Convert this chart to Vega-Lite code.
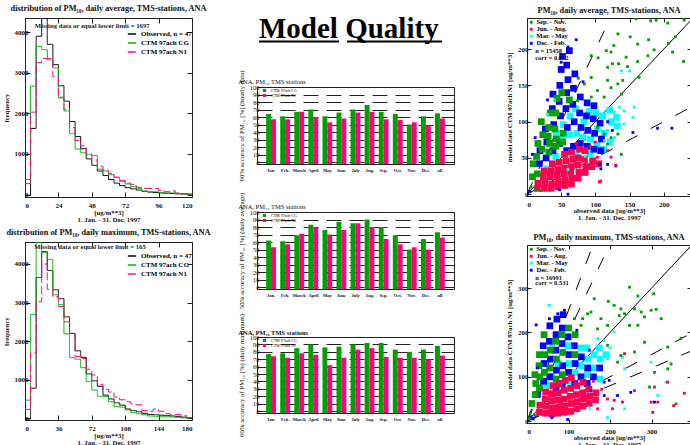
{"$schema":"https://vega.github.io/schema/vega-lite/v6.json","padding":{"left":2,"top":3,"right":0,"bottom":0},"background":"white",
"resolve":{"scale":{"color":"independent","strokeDash":"independent"},"legend":{"color":"independent","strokeDash":"independent"}},
"config":{"font":"Liberation Serif","view":{"stroke":"#222","strokeWidth":1},"axis":{"labelFontWeight":"bold","titleFontWeight":"bold","labelFontSize":7,"titleFontSize":6.8,"labelColor":"#111","titleColor":"#111","grid":false,"domain":false,"tickColor":"#222","labelPadding":6,"labelOverlap":false},"title":{"fontSize":8.3,"fontWeight":"bold","color":"#111","offset":3},"legend":{"labelFontWeight":"bold"}},
"datasets":{
"h1":[{"b":0,"o":-20,"c":370,"n":270},{"b":4,"o":1630,"c":2670,"n":2030},{"b":8,"o":3900,"c":3650,"n":3250},{"b":12,"o":4350,"c":3570,"n":3350},{"b":16,"o":3700,"c":3320,"n":3350},{"b":20,"o":3200,"c":3120,"n":2900},{"b":24,"o":2680,"c":2380,"n":2400},{"b":28,"o":2300,"c":2060,"n":2100},{"b":32,"o":1800,"c":1500,"n":1650},{"b":36,"o":1430,"c":1120,"n":1330},{"b":40,"o":1130,"c":1030,"n":1200},{"b":44,"o":880,"c":980,"n":1000},{"b":48,"o":720,"c":960,"n":850},{"b":52,"o":580,"c":625,"n":700},{"b":56,"o":470,"c":580,"n":600},{"b":60,"o":370,"c":490,"n":520},{"b":64,"o":280,"c":420,"n":430},{"b":68,"o":220,"c":320,"n":350},{"b":72,"o":170,"c":260,"n":280},{"b":76,"o":140,"c":200,"n":250},{"b":80,"o":110,"c":150,"n":180},{"b":84,"o":80,"c":90,"n":150},{"b":88,"o":60,"c":70,"n":150},{"b":92,"o":50,"c":70,"n":150},{"b":96,"o":40,"c":50,"n":100},{"b":100,"o":30,"c":40,"n":70},{"b":104,"o":25,"c":40,"n":90},{"b":108,"o":20,"c":20,"n":40},{"b":112,"o":15,"c":10,"n":20},{"b":116,"o":10,"c":10,"n":20},{"b":120,"o":10,"c":10,"n":20}],
"h2":[{"b":0,"o":-20,"c":470,"n":230},{"b":6,"o":780,"c":2690,"n":1700},{"b":12,"o":3650,"c":4570,"n":3020},{"b":18,"o":4320,"c":4300,"n":4000},{"b":24,"o":3830,"c":4120,"n":3340},{"b":30,"o":3330,"c":3200,"n":3150},{"b":36,"o":3100,"c":2950,"n":2900},{"b":42,"o":2630,"c":2190,"n":2500},{"b":48,"o":2200,"c":1570,"n":2200},{"b":54,"o":1750,"c":1530,"n":1600},{"b":60,"o":1580,"c":1310,"n":1550},{"b":66,"o":1150,"c":950,"n":1270},{"b":72,"o":970,"c":730,"n":1120},{"b":78,"o":830,"c":570,"n":880},{"b":84,"o":600,"c":560,"n":750},{"b":90,"o":500,"c":430,"n":680},{"b":96,"o":400,"c":300,"n":550},{"b":102,"o":340,"c":290,"n":480},{"b":108,"o":240,"c":220,"n":430},{"b":114,"o":200,"c":150,"n":370},{"b":120,"o":170,"c":120,"n":350},{"b":126,"o":130,"c":90,"n":200},{"b":132,"o":100,"c":60,"n":180},{"b":138,"o":90,"c":50,"n":240},{"b":144,"o":80,"c":40,"n":180},{"b":150,"o":70,"c":40,"n":120},{"b":156,"o":60,"c":30,"n":90},{"b":162,"o":50,"c":20,"n":100},{"b":168,"o":30,"c":10,"n":70},{"b":174,"o":20,"c":5,"n":20},{"b":180,"o":20,"c":5,"n":20}],
"b1":[{"m":"Jan.","a":64,"b":57},{"m":"Feb.","a":61,"b":57},{"m":"March","a":67,"b":67},{"m":"April","a":70,"b":60},{"m":"May","a":61,"b":53},{"m":"June","a":66,"b":58},{"m":"July","a":70,"b":66},{"m":"Aug.","a":76,"b":67},{"m":"Sep.","a":67,"b":57},{"m":"Oct.","a":64,"b":56},{"m":"Nov.","a":50,"b":53},{"m":"Dec.","a":61,"b":49},{"m":"all","a":65,"b":58}],
"b2":[{"m":"Jan.","a":62,"b":53},{"m":"Feb.","a":61,"b":57},{"m":"March","a":69,"b":71},{"m":"April","a":83,"b":80},{"m":"May","a":76,"b":70},{"m":"June","a":87,"b":76},{"m":"July","a":85,"b":85},{"m":"Aug.","a":90,"b":80},{"m":"Sep.","a":80,"b":64},{"m":"Oct.","a":69,"b":57},{"m":"Nov.","a":50,"b":53},{"m":"Dec.","a":64,"b":50},{"m":"all","a":73,"b":66}],
"b3":[{"m":"Jan.","a":77,"b":74},{"m":"Feb.","a":78,"b":72},{"m":"March","a":85,"b":78},{"m":"April","a":90,"b":76},{"m":"May","a":86,"b":62},{"m":"June","a":87,"b":72},{"m":"July","a":90,"b":83},{"m":"Aug.","a":92,"b":85},{"m":"Sep.","a":92,"b":73},{"m":"Oct.","a":83,"b":72},{"m":"Nov.","a":80,"b":72},{"m":"Dec.","a":83,"b":70},{"m":"all","a":88,"b":75}],
"c1":[{"x":30,"y":35,"s":"M"},{"x":42,"y":52,"s":"M"},{"x":43,"y":84,"s":"M"},{"x":52,"y":76,"s":"M"},{"x":53,"y":96,"s":"M"},{"x":62,"y":82,"s":"M"},{"x":63,"y":108,"s":"M"},{"x":72,"y":56,"s":"M"},{"x":73,"y":84,"s":"M"},{"x":71,"y":118,"s":"M"},{"x":82,"y":78,"s":"M"},{"x":83,"y":100,"s":"M"},{"x":92,"y":56,"s":"M"},{"x":93,"y":76,"s":"M"},{"x":91,"y":114,"s":"M"},{"x":102,"y":68,"s":"M"},{"x":103,"y":90,"s":"M"},{"x":101,"y":112,"s":"M"},{"x":112,"y":62,"s":"M"},{"x":113,"y":84,"s":"M"},{"x":111,"y":108,"s":"M"},{"x":122,"y":72,"s":"M"},{"x":123,"y":100,"s":"M"},{"x":121,"y":116,"s":"M"},{"x":132,"y":94,"s":"M"},{"x":131,"y":106,"s":"M"},
{"x":18,"y":42,"s":"D"},{"x":19,"y":60,"s":"D"},{"x":28,"y":50,"s":"D"},{"x":29,"y":72,"s":"D"},{"x":27,"y":90,"s":"D"},{"x":38,"y":60,"s":"D"},{"x":39,"y":96,"s":"D"},{"x":37,"y":118,"s":"D"},{"x":38,"y":138,"s":"D"},{"x":48,"y":70,"s":"D"},{"x":49,"y":108,"s":"D"},{"x":47,"y":128,"s":"D"},{"x":48,"y":150,"s":"D"},{"x":50,"y":172,"s":"D"},{"x":52,"y":190,"s":"D"},{"x":58,"y":60,"s":"D"},{"x":59,"y":92,"s":"D"},{"x":57,"y":118,"s":"D"},{"x":58,"y":140,"s":"D"},{"x":60,"y":158,"s":"D"},{"x":58,"y":178,"s":"D"},{"x":62,"y":198,"s":"D"},{"x":68,"y":66,"s":"D"},{"x":69,"y":100,"s":"D"},{"x":67,"y":124,"s":"D"},{"x":68,"y":146,"s":"D"},{"x":70,"y":166,"s":"D"},{"x":78,"y":70,"s":"D"},{"x":79,"y":92,"s":"D"},{"x":77,"y":112,"s":"D"},{"x":78,"y":134,"s":"D"},{"x":88,"y":66,"s":"D"},{"x":89,"y":88,"s":"D"},{"x":87,"y":108,"s":"D"},{"x":88,"y":126,"s":"D"},{"x":98,"y":62,"s":"D"},{"x":99,"y":84,"s":"D"},{"x":97,"y":104,"s":"D"},{"x":98,"y":122,"s":"D"},{"x":108,"y":60,"s":"D"},{"x":109,"y":76,"s":"D"},{"x":107,"y":98,"s":"D"},
{"x":8,"y":24,"s":"S"},{"x":9,"y":42,"s":"S"},{"x":15,"y":28,"s":"S"},{"x":14,"y":52,"s":"S"},{"x":16,"y":70,"s":"S"},{"x":22,"y":62,"s":"S"},{"x":23,"y":82,"s":"S"},{"x":21,"y":100,"s":"S"},{"x":32,"y":58,"s":"S"},{"x":33,"y":70,"s":"S"},{"x":31,"y":80,"s":"S"},{"x":32,"y":92,"s":"S"},{"x":34,"y":112,"s":"S"},{"x":42,"y":66,"s":"S"},{"x":43,"y":76,"s":"S"},{"x":41,"y":90,"s":"S"},{"x":42,"y":112,"s":"S"},{"x":44,"y":132,"s":"S"},{"x":52,"y":72,"s":"S"},{"x":53,"y":84,"s":"S"},{"x":51,"y":140,"s":"S"},{"x":62,"y":130,"s":"S"},
{"x":15,"y":8,"s":"J"},{"x":16,"y":15,"s":"J"},{"x":25,"y":8,"s":"J"},{"x":26,"y":16,"s":"J"},{"x":24,"y":24,"s":"J"},{"x":25,"y":32,"s":"J"},{"x":35,"y":8,"s":"J"},{"x":36,"y":14,"s":"J"},{"x":34,"y":24,"s":"J"},{"x":35,"y":32,"s":"J"},{"x":37,"y":42,"s":"J"},{"x":45,"y":10,"s":"J"},{"x":46,"y":18,"s":"J"},{"x":44,"y":26,"s":"J"},{"x":45,"y":34,"s":"J"},{"x":47,"y":44,"s":"J"},{"x":55,"y":12,"s":"J"},{"x":56,"y":20,"s":"J"},{"x":54,"y":28,"s":"J"},{"x":55,"y":36,"s":"J"},{"x":57,"y":46,"s":"J"},{"x":55,"y":55,"s":"J"},{"x":65,"y":14,"s":"J"},{"x":66,"y":22,"s":"J"},{"x":64,"y":30,"s":"J"},{"x":65,"y":38,"s":"J"},{"x":67,"y":48,"s":"J"},{"x":65,"y":58,"s":"J"},{"x":75,"y":22,"s":"J"},{"x":76,"y":30,"s":"J"},{"x":74,"y":40,"s":"J"},{"x":75,"y":50,"s":"J"},{"x":77,"y":62,"s":"J"},{"x":85,"y":30,"s":"J"},{"x":86,"y":38,"s":"J"},{"x":84,"y":48,"s":"J"},{"x":85,"y":60,"s":"J"},{"x":95,"y":38,"s":"J"},{"x":96,"y":46,"s":"J"},{"x":105,"y":42,"s":"J"}],
"d1":[{"x":138,"y":170,"s":"M"},{"x":150,"y":170,"s":"M"},{"x":118,"y":115,"s":"M"},{"x":128,"y":113,"s":"M"},{"x":142,"y":115,"s":"M"},{"x":155,"y":106,"s":"M"},{"x":157,"y":120,"s":"M"},{"x":135,"y":120,"s":"M"},{"x":142,"y":97,"s":"M"},{"x":118,"y":88,"s":"M"},{"x":128,"y":78,"s":"M"},{"x":113,"y":74,"s":"M"},{"x":60,"y":34,"s":"M"},{"x":85,"y":52,"s":"M"},{"x":40,"y":130,"s":"M"},{"x":30,"y":110,"s":"M"},
{"x":72,"y":213,"s":"D"},{"x":52,"y":170,"s":"D"},{"x":60,"y":203,"s":"D"},{"x":50,"y":182,"s":"D"},{"x":155,"y":85,"s":"D"},{"x":191,"y":91,"s":"D"},{"x":212,"y":91,"s":"D"},{"x":118,"y":41,"s":"D"},{"x":130,"y":39,"s":"D"},{"x":108,"y":35,"s":"D"},{"x":106,"y":41,"s":"D"},{"x":60,"y":0,"s":"D"},{"x":8,"y":55,"s":"D"},{"x":12,"y":78,"s":"D"},{"x":30,"y":130,"s":"D"},{"x":82,"y":155,"s":"D"},{"x":118,"y":100,"s":"D"},{"x":125,"y":88,"s":"D"},{"x":48,"y":6,"s":"D"},{"x":4,"y":4,"s":"D"},
{"x":160,"y":242,"s":"S"},{"x":181,"y":239,"s":"S"},{"x":189,"y":240,"s":"S"},{"x":206,"y":236,"s":"S"},{"x":230,"y":240,"s":"S"},{"x":133,"y":221,"s":"S"},{"x":151,"y":217,"s":"S"},{"x":162,"y":207,"s":"S"},{"x":178,"y":213,"s":"S"},{"x":127,"y":205,"s":"S"},{"x":116,"y":198,"s":"S"},{"x":123,"y":196,"s":"S"},{"x":94,"y":191,"s":"S"},{"x":104,"y":188,"s":"S"},{"x":145,"y":189,"s":"S"},{"x":162,"y":183,"s":"S"},{"x":177,"y":191,"s":"S"},{"x":186,"y":199,"s":"S"},{"x":213,"y":196,"s":"S"},{"x":229,"y":183,"s":"S"},{"x":207,"y":208,"s":"S"},{"x":217,"y":217,"s":"S"},{"x":125,"y":180,"s":"S"},{"x":134,"y":180,"s":"S"},{"x":118,"y":175,"s":"S"},{"x":147,"y":176,"s":"S"},{"x":164,"y":161,"s":"S"},{"x":140,"y":157,"s":"S"},{"x":118,"y":157,"s":"S"},{"x":94,"y":161,"s":"S"},{"x":84,"y":152,"s":"S"},{"x":103,"y":143,"s":"S"},{"x":123,"y":147,"s":"S"},{"x":133,"y":152,"s":"S"},{"x":113,"y":134,"s":"S"},{"x":94,"y":134,"s":"S"},{"x":138,"y":138,"s":"S"},{"x":123,"y":78,"s":"S"},{"x":133,"y":83,"s":"S"},{"x":138,"y":55,"s":"S"},{"x":113,"y":83,"s":"S"},{"x":118,"y":69,"s":"S"},{"x":11,"y":25,"s":"S"},{"x":103,"y":92,"s":"S"},{"x":74,"y":129,"s":"S"},{"x":6,"y":10,"s":"S"},{"x":12,"y":6,"s":"S"},{"x":20,"y":5,"s":"S"},{"x":75,"y":160,"s":"S"},
{"x":106,"y":17,"s":"J"},{"x":108,"y":18,"s":"J"},{"x":130,"y":40,"s":"J"},{"x":118,"y":60,"s":"J"},{"x":123,"y":51,"s":"J"},{"x":103,"y":51,"s":"J"},{"x":94,"y":41,"s":"J"},{"x":84,"y":37,"s":"J"},{"x":92,"y":66,"s":"J"},{"x":72,"y":70,"s":"J"},{"x":100,"y":72,"s":"J"}],
"c2":[{"x":45,"y":82,"s":"M"},{"x":60,"y":100,"s":"M"},{"x":61,"y":165,"s":"M"},{"x":75,"y":130,"s":"M"},{"x":100,"y":90,"s":"M"},{"x":101,"y":130,"s":"M"},{"x":99,"y":170,"s":"M"},{"x":115,"y":110,"s":"M"},{"x":116,"y":150,"s":"M"},{"x":130,"y":125,"s":"M"},{"x":131,"y":165,"s":"M"},{"x":145,"y":105,"s":"M"},{"x":146,"y":140,"s":"M"},{"x":144,"y":165,"s":"M"},{"x":160,"y":120,"s":"M"},{"x":161,"y":150,"s":"M"},{"x":175,"y":95,"s":"M"},{"x":176,"y":140,"s":"M"},{"x":174,"y":165,"s":"M"},{"x":190,"y":150,"s":"M"},
{"x":25,"y":60,"s":"D"},{"x":40,"y":90,"s":"D"},{"x":41,"y":130,"s":"D"},{"x":39,"y":170,"s":"D"},{"x":55,"y":100,"s":"D"},{"x":56,"y":140,"s":"D"},{"x":54,"y":180,"s":"D"},{"x":55,"y":215,"s":"D"},{"x":70,"y":70,"s":"D"},{"x":71,"y":115,"s":"D"},{"x":69,"y":160,"s":"D"},{"x":70,"y":195,"s":"D"},{"x":72,"y":230,"s":"D"},{"x":85,"y":85,"s":"D"},{"x":86,"y":125,"s":"D"},{"x":84,"y":175,"s":"D"},{"x":85,"y":210,"s":"D"},{"x":87,"y":240,"s":"D"},{"x":100,"y":110,"s":"D"},{"x":101,"y":150,"s":"D"},{"x":99,"y":190,"s":"D"},{"x":115,"y":85,"s":"D"},{"x":116,"y":130,"s":"D"},{"x":114,"y":170,"s":"D"},{"x":130,"y":100,"s":"D"},{"x":131,"y":145,"s":"D"},{"x":145,"y":85,"s":"D"},{"x":146,"y":120,"s":"D"},{"x":160,"y":100,"s":"D"},{"x":175,"y":120,"s":"D"},
{"x":12,"y":40,"s":"S"},{"x":20,"y":60,"s":"S"},{"x":21,"y":85,"s":"S"},{"x":19,"y":105,"s":"S"},{"x":30,"y":75,"s":"S"},{"x":31,"y":100,"s":"S"},{"x":29,"y":125,"s":"S"},{"x":30,"y":150,"s":"S"},{"x":42,"y":110,"s":"S"},{"x":43,"y":150,"s":"S"},{"x":41,"y":195,"s":"S"},{"x":55,"y":120,"s":"S"},{"x":56,"y":160,"s":"S"},{"x":70,"y":95,"s":"S"},{"x":71,"y":140,"s":"S"},{"x":69,"y":180,"s":"S"},{"x":85,"y":105,"s":"S"},{"x":86,"y":155,"s":"S"},{"x":84,"y":195,"s":"S"},{"x":100,"y":210,"s":"S"},{"x":115,"y":150,"s":"S"},{"x":116,"y":195,"s":"S"},
{"x":30,"y":20,"s":"J"},{"x":31,"y":36,"s":"J"},{"x":45,"y":18,"s":"J"},{"x":46,"y":34,"s":"J"},{"x":44,"y":50,"s":"J"},{"x":45,"y":66,"s":"J"},{"x":60,"y":16,"s":"J"},{"x":61,"y":30,"s":"J"},{"x":59,"y":46,"s":"J"},{"x":60,"y":62,"s":"J"},{"x":62,"y":80,"s":"J"},{"x":75,"y":18,"s":"J"},{"x":76,"y":32,"s":"J"},{"x":74,"y":48,"s":"J"},{"x":75,"y":64,"s":"J"},{"x":77,"y":84,"s":"J"},{"x":90,"y":20,"s":"J"},{"x":91,"y":34,"s":"J"},{"x":89,"y":50,"s":"J"},{"x":90,"y":70,"s":"J"},{"x":92,"y":92,"s":"J"},{"x":105,"y":22,"s":"J"},{"x":106,"y":40,"s":"J"},{"x":104,"y":56,"s":"J"},{"x":105,"y":74,"s":"J"},{"x":107,"y":98,"s":"J"},{"x":120,"y":28,"s":"J"},{"x":121,"y":44,"s":"J"},{"x":119,"y":60,"s":"J"},{"x":120,"y":80,"s":"J"},{"x":135,"y":34,"s":"J"},{"x":136,"y":50,"s":"J"},{"x":134,"y":64,"s":"J"},{"x":135,"y":88,"s":"J"},{"x":150,"y":40,"s":"J"},{"x":151,"y":56,"s":"J"},{"x":149,"y":72,"s":"J"},{"x":165,"y":48,"s":"J"},{"x":166,"y":64,"s":"J"}],
"d2":[{"x":170,"y":186,"s":"M"},{"x":186,"y":182,"s":"M"},{"x":210,"y":201,"s":"M"},{"x":194,"y":141,"s":"M"},{"x":299,"y":133,"s":"M"},{"x":235,"y":118,"s":"M"},{"x":194,"y":8,"s":"M"},{"x":315,"y":58,"s":"M"},{"x":335,"y":88,"s":"M"},{"x":235,"y":28,"s":"M"},{"x":230,"y":144,"s":"M"},{"x":54,"y":261,"s":"M"},{"x":180,"y":70,"s":"M"},{"x":150,"y":30,"s":"M"},{"x":200,"y":165,"s":"M"},
{"x":22,"y":217,"s":"D"},{"x":74,"y":242,"s":"D"},{"x":90,"y":250,"s":"D"},{"x":54,"y":231,"s":"D"},{"x":154,"y":69,"s":"D"},{"x":186,"y":88,"s":"D"},{"x":218,"y":58,"s":"D"},{"x":250,"y":65,"s":"D"},{"x":198,"y":92,"s":"D"},{"x":307,"y":43,"s":"D"},{"x":186,"y":58,"s":"D"},{"x":98,"y":4,"s":"D"},{"x":10,"y":10,"s":"D"},{"x":15,"y":5,"s":"D"},{"x":25,"y":120,"s":"D"},{"x":120,"y":205,"s":"D"},{"x":150,"y":160,"s":"D"},{"x":60,"y":8,"s":"D"},
{"x":247,"y":302,"s":"S"},{"x":267,"y":282,"s":"S"},{"x":305,"y":287,"s":"S"},{"x":196,"y":270,"s":"S"},{"x":162,"y":276,"s":"S"},{"x":210,"y":261,"s":"S"},{"x":226,"y":253,"s":"S"},{"x":235,"y":242,"s":"S"},{"x":259,"y":253,"s":"S"},{"x":275,"y":246,"s":"S"},{"x":299,"y":250,"s":"S"},{"x":311,"y":252,"s":"S"},{"x":283,"y":235,"s":"S"},{"x":323,"y":231,"s":"S"},{"x":146,"y":242,"s":"S"},{"x":134,"y":231,"s":"S"},{"x":178,"y":231,"s":"S"},{"x":194,"y":216,"s":"S"},{"x":170,"y":208,"s":"S"},{"x":154,"y":246,"s":"S"},{"x":222,"y":238,"s":"S"},{"x":267,"y":216,"s":"S"},{"x":247,"y":216,"s":"S"},{"x":371,"y":187,"s":"S"},{"x":283,"y":178,"s":"S"},{"x":339,"y":167,"s":"S"},{"x":259,"y":156,"s":"S"},{"x":226,"y":148,"s":"S"},{"x":218,"y":133,"s":"S"},{"x":295,"y":77,"s":"S"},{"x":307,"y":110,"s":"S"},{"x":339,"y":118,"s":"S"},{"x":347,"y":129,"s":"S"},{"x":194,"y":171,"s":"S"},{"x":359,"y":39,"s":"S"},{"x":114,"y":231,"s":"S"},{"x":130,"y":216,"s":"S"},{"x":5,"y":6,"s":"S"},{"x":8,"y":18,"s":"S"},{"x":18,"y":14,"s":"S"},
{"x":235,"y":152,"s":"J"},{"x":259,"y":69,"s":"J"},{"x":307,"y":77,"s":"J"},{"x":303,"y":20,"s":"J"},{"x":299,"y":43,"s":"J"},{"x":315,"y":43,"s":"J"},{"x":379,"y":63,"s":"J"},{"x":339,"y":88,"s":"J"},{"x":353,"y":35,"s":"J"},{"x":194,"y":50,"s":"J"},{"x":210,"y":47,"s":"J"},{"x":230,"y":43,"s":"J"},{"x":170,"y":28,"s":"J"},{"x":206,"y":28,"s":"J"},{"x":180,"y":72,"s":"J"},{"x":160,"y":90,"s":"J"}]
},
"spacing":51,
"hconcat":[{"spacing":25,"resolve":{"scale":{"color":"independent","strokeDash":"independent"},"legend":{"color":"independent","strokeDash":"independent"}},"hconcat":[
{"spacing":45,"bounds":"flush","resolve":{"scale":{"color":"independent","strokeDash":"independent"},"legend":{"color":"independent","strokeDash":"independent"}},"vconcat":[
{"width":167,"height":179,"title":"distribution of PM₁₀, daily average, TMS-stations, ANA","resolve":{"axis":{"x":"independent","y":"independent"}},"data":{"name":"h1"},"transform":[{"fold":["o","c","n"],"as":["k","v"]}],
"layer":[
{"mark":{"type":"point","opacity":0},"encoding":{"x":{"field":"b","type":"quantitative","scale":{"domain":[0,120],"nice":false},"axis":{"orient":"top","values":[0,24,48,72,96,120],"labels":false,"title":null,"tickSize":-5}},"y":{"field":"v","type":"quantitative","scale":{"domain":[-60,4350],"nice":false,"zero":false},"axis":{"orient":"right","values":[0,1000,2000,3000,4000],"labels":false,"title":null,"tickSize":-5}}}},
{"mark":{"type":"line","interpolate":"step-after","strokeWidth":1,"clip":true},"encoding":{"x":{"field":"b","type":"quantitative","scale":{"domain":[0,120],"nice":false},"axis":{"values":[0,24,48,72,96,120],"title":["[ug/m**3]","1. Jan. - 31. Dec. 1997"],"tickSize":-5,"labelPadding":9,"titlePadding":1,"titleLineHeight":7}},"y":{"field":"v","type":"quantitative","scale":{"domain":[-60,4350],"nice":false,"zero":false},"axis":{"values":[0,1000,2000,3000,4000],"format":"d","title":"frequency","tickSize":-5,"labelPadding":2,"titlePadding":5}},"order":{"field":"k"},
"color":{"field":"k","type":"nominal","scale":{"domain":["o","c","n"],"range":["#000000","#00b400","#ff0a8c"]},"legend":{"orient":"none","legendX":102,"legendY":11,"title":null,"symbolType":"stroke","symbolSize":70,"labelFontSize":7,"rowPadding":1,"labelExpr":"{'o':'Observed, n = 47','c':'CTM 97ach CG','n':'CTM 97ach N1'}[datum.label]"}},
"strokeDash":{"field":"k","type":"nominal","scale":{"domain":["o","c","n"],"range":[[1,0],[1,0],[8,3]]},"legend":{"orient":"none","legendX":102,"legendY":11,"title":null,"symbolType":"stroke","symbolSize":70,"labelFontSize":7,"rowPadding":1,"labelExpr":"{'o':'Observed, n = 47','c':'CTM 97ach CG','n':'CTM 97ach N1'}[datum.label]"}}}},
{"data":{"values":[{"b":7,"v":4160,"t":"Missing data or equal lower limit = 1697"}]},"transform":[],"mark":{"type":"text","align":"left","fontSize":6.7,"fontWeight":"bold","color":"#222"},"encoding":{"x":{"field":"b","type":"quantitative","axis":null,"scale":{"domain":[0,120],"nice":false}},"y":{"field":"v","type":"quantitative","axis":null,"scale":{"domain":[-60,4350],"nice":false,"zero":false}},"text":{"field":"t"}}}
]},
{"width":167,"height":178,"title":"distribution of PM₁₀, daily maximum, TMS-stations, ANA","resolve":{"axis":{"x":"independent","y":"independent"}},"data":{"name":"h2"},"transform":[{"fold":["o","c","n"],"as":["k","v"]}],
"layer":[
{"mark":{"type":"point","opacity":0},"encoding":{"x":{"field":"b","type":"quantitative","scale":{"domain":[0,180],"nice":false},"axis":{"orient":"top","values":[0,36,72,108,144,180],"labels":false,"title":null,"tickSize":-5}},"y":{"field":"v","type":"quantitative","scale":{"domain":[-45,4570],"nice":false,"zero":false},"axis":{"orient":"right","values":[0,1000,2000,3000,4000],"labels":false,"title":null,"tickSize":-5}}}},
{"mark":{"type":"line","interpolate":"step-after","strokeWidth":1,"clip":true},"encoding":{"x":{"field":"b","type":"quantitative","scale":{"domain":[0,180],"nice":false},"axis":{"values":[0,36,72,108,144,180],"title":["[ug/m**3]","1. Jan. - 31. Dec. 1997"],"tickSize":-5,"labelPadding":9,"titlePadding":1,"titleLineHeight":7}},"y":{"field":"v","type":"quantitative","scale":{"domain":[-45,4570],"nice":false,"zero":false},"axis":{"values":[0,1000,2000,3000,4000],"format":"d","title":"frequency","tickSize":-5,"labelPadding":2,"titlePadding":5}},"order":{"field":"k"},
"color":{"field":"k","type":"nominal","scale":{"domain":["o","c","n"],"range":["#000000","#00b400","#ff0a8c"]},"legend":{"orient":"none","legendX":102,"legendY":9,"title":null,"symbolType":"stroke","symbolSize":70,"labelFontSize":7,"rowPadding":1,"labelExpr":"{'o':'Observed, n = 47','c':'CTM 97ach CG','n':'CTM 97ach N1'}[datum.label]"}},
"strokeDash":{"field":"k","type":"nominal","scale":{"domain":["o","c","n"],"range":[[1,0],[1,0],[8,3]]},"legend":{"orient":"none","legendX":102,"legendY":9,"title":null,"symbolType":"stroke","symbolSize":70,"labelFontSize":7,"rowPadding":1,"labelExpr":"{'o':'Observed, n = 47','c':'CTM 97ach CG','n':'CTM 97ach N1'}[datum.label]"}}}},
{"data":{"values":[{"b":10,"v":4440,"t":"Missing data or equal lower limit = 165"}]},"transform":[],"mark":{"type":"text","align":"left","fontSize":6.7,"fontWeight":"bold","color":"#222"},"encoding":{"x":{"field":"b","type":"quantitative","axis":null,"scale":{"domain":[0,180],"nice":false}},"y":{"field":"v","type":"quantitative","axis":null,"scale":{"domain":[-45,4570],"nice":false,"zero":false}},"text":{"field":"t"}}}
]}
]},
{"spacing":48,"bounds":"flush","resolve":{"scale":{"color":"independent"},"legend":{"color":"independent"}},"vconcat":[
{"width":197,"height":21,"view":{"stroke":null},"layer":[
{"data":{"values":[{"x":2,"y":1,"t":"Model Quality"}]},"mark":{"type":"text","align":"left","baseline":"alphabetic","fontSize":29,"fontWeight":"bold","color":"#000"},"encoding":{"x":{"field":"x","type":"quantitative","axis":null,"scale":{"domain":[0,197],"nice":false}},"y":{"field":"y","type":"quantitative","axis":null,"scale":{"domain":[0,21],"nice":false}},"text":{"field":"t"}}},
{"data":{"values":[{"x":2,"x2":82,"y":-2.5},{"x":90,"x2":185,"y":-2.5}]},"mark":{"type":"rule","strokeWidth":2,"color":"#000"},"encoding":{"x":{"field":"x","type":"quantitative","axis":null,"scale":{"domain":[0,197],"nice":false}},"x2":{"field":"x2"},"y":{"field":"y","type":"quantitative","axis":null,"scale":{"domain":[0,21],"nice":false}}}}
]},
{"width":197,"height":77,"title":{"text":"ANA, PM₁₀  TMS stations","anchor":"start","fontSize":6.5,"fontWeight":"normal","offset":-15},"data":{"name":"b1"},"transform":[{"fold":["a","b"],"as":["k","v"]}],"mark":{"type":"bar"},"encoding":{"x":{"field":"m","type":"nominal","sort":null,"scale":{"paddingInner":0.3,"paddingOuter":0.65},"axis":{"title":null,"labelAngle":0,"labelFontSize":4.5,"labelPadding":3,"tickSize":0}},"xOffset":{"field":"k","sort":["a","b"]},"y":{"field":"v","type":"quantitative","stack":null,"scale":{"domain":[-2.5,100],"nice":false,"zero":false},"axis":{"values":[0,10,20,30,40,50,60,70,80,90,100],"grid":true,"gridColor":"#222","gridDash":[15,8],"title":"60% accuracy of PM₁₀ [%] (hourly data)","titleFontSize":6.8,"titleFontWeight":"normal","labelFontSize":6.5,"labelFontWeight":"normal","tickSize":-3,"labelPadding":1,"titlePadding":5}},"y2":{"datum":-2.5},
"color":{"field":"k","type":"nominal","scale":{"domain":["a","b"],"range":["#00a000","#ff0080"]},"legend":{"orient":"none","legendX":5,"legendY":1,"title":null,"symbolType":"square","symbolSize":10,"labelFontSize":4,"labelFontWeight":"normal","rowPadding":-1,"labelExpr":"{'a':'CTM 97ach CG','b':'CTM 97ach N1'}[datum.label]"}}}},
{"width":197,"height":77,"title":{"text":"ANA, PM₁₀  TMS stations","anchor":"start","fontSize":6.5,"fontWeight":"normal","offset":-18},"data":{"name":"b2"},"transform":[{"fold":["a","b"],"as":["k","v"]}],"mark":{"type":"bar"},"encoding":{"x":{"field":"m","type":"nominal","sort":null,"scale":{"paddingInner":0.3,"paddingOuter":0.65},"axis":{"title":null,"labelAngle":0,"labelFontSize":4.5,"labelPadding":3,"tickSize":0}},"xOffset":{"field":"k","sort":["a","b"]},"y":{"field":"v","type":"quantitative","stack":null,"scale":{"domain":[-2.5,100],"nice":false,"zero":false},"axis":{"values":[0,10,20,30,40,50,60,70,80,90,100],"grid":true,"gridColor":"#222","gridDash":[15,8],"title":"50% accuracy of PM₁₀ [%] (daily average)","titleFontSize":6.8,"titleFontWeight":"normal","labelFontSize":6.5,"labelFontWeight":"normal","tickSize":-3,"labelPadding":1,"titlePadding":5}},"y2":{"datum":-2.5},
"color":{"field":"k","type":"nominal","scale":{"domain":["a","b"],"range":["#00a000","#ff0080"]},"legend":{"orient":"none","legendX":5,"legendY":1,"title":null,"symbolType":"square","symbolSize":10,"labelFontSize":4,"labelFontWeight":"normal","rowPadding":-1,"labelExpr":"{'a':'CTM 97ach CG','b':'CTM 97ach N1'}[datum.label]"}}}},
{"width":197,"height":76,"title":{"text":"ANA, PM₁₀  TMS stations","anchor":"start","fontSize":6.5,"fontWeight":"bold","offset":-23},"data":{"name":"b3"},"transform":[{"fold":["a","b"],"as":["k","v"]}],"mark":{"type":"bar"},"encoding":{"x":{"field":"m","type":"nominal","sort":null,"scale":{"paddingInner":0.3,"paddingOuter":0.65},"axis":{"title":null,"labelAngle":0,"labelFontSize":4.5,"labelPadding":3,"tickSize":0}},"xOffset":{"field":"k","sort":["a","b"]},"y":{"field":"v","type":"quantitative","stack":null,"scale":{"domain":[-2.5,100],"nice":false,"zero":false},"axis":{"values":[0,10,20,30,40,50,60,70,80,90,100],"grid":true,"gridColor":"#222","gridDash":[15,8],"title":"60% accuracy of PM₁₀ [%] (daily maximum)","titleFontSize":6.8,"titleFontWeight":"normal","labelFontSize":6.5,"labelFontWeight":"normal","tickSize":-3,"labelPadding":1,"titlePadding":5}},"y2":{"datum":-2.5},
"color":{"field":"k","type":"nominal","scale":{"domain":["a","b"],"range":["#00a000","#ff0080"]},"legend":{"orient":"none","legendX":5,"legendY":1,"title":null,"symbolType":"square","symbolSize":10,"labelFontSize":4,"labelFontWeight":"normal","rowPadding":-1,"labelExpr":"{'a':'CTM 97ach CG','b':'CTM 97ach N1'}[datum.label]"}}}}
]}
]},
{"spacing":49,"bounds":"flush","resolve":{"scale":{"color":"independent"},"legend":{"color":"independent"}},"vconcat":[
{"width":164,"height":178,"title":"PM₁₀, daily average, TMS-stations, ANA","resolve":{"axis":{"x":"independent","y":"independent"}},
"layer":[
{"data":{"values":[{"x":0,"y":0}]},"mark":{"type":"point","opacity":0},"encoding":{"x":{"field":"x","type":"quantitative","scale":{"domain":[0,240],"nice":false},"axis":{"orient":"top","values":[0,50,100,150,200],"labels":false,"title":null,"tickSize":-4}},"y":{"field":"y","type":"quantitative","scale":{"domain":[-2.5,243],"nice":false,"zero":false},"axis":{"orient":"right","values":[0,50,100,150,200],"labels":false,"title":null,"tickSize":-4}}}},
{"data":{"values":[{"x":0,"y":0,"x2":240,"y2":240}]},"mark":{"type":"rule","strokeWidth":1,"color":"#000","clip":true},"encoding":{"x":{"field":"x","type":"quantitative","scale":{"domain":[0,240],"nice":false},"axis":{"values":[0,50,100,150,200],"title":["observed data  [ug/m**3]","1. Jan. - 31. Dec. 1997"],"tickSize":-4,"labelPadding":8,"titlePadding":0,"titleLineHeight":7}},"y":{"field":"y","type":"quantitative","scale":{"domain":[-2.5,243],"nice":false,"zero":false},"axis":{"values":[0,50,100,150,200],"title":"model data CTM 97ach N1  [ug/m**3]","tickSize":-4,"labelPadding":3,"titlePadding":5}},"x2":{"field":"x2"},"y2":{"field":"y2"}}},
{"data":{"values":[{"x":0,"y":0,"x2":122,"y2":243},{"x":0,"y":0,"x2":240,"y2":120}]},"mark":{"type":"rule","strokeWidth":1,"color":"#000","strokeDash":[13,15],"clip":true},"encoding":{"x":{"field":"x","type":"quantitative","axis":null,"scale":{"domain":[0,240],"nice":false}},"y":{"field":"y","type":"quantitative","axis":null,"scale":{"domain":[-2.5,243],"nice":false,"zero":false}},"x2":{"field":"x2"},"y2":{"field":"y2"}}},
{"data":{"name":"c1"},"mark":{"type":"square","size":45,"opacity":1,"clip":true},"encoding":{"x":{"field":"x","type":"quantitative","axis":null,"scale":{"domain":[0,240],"nice":false}},"y":{"field":"y","type":"quantitative","axis":null,"scale":{"domain":[-2.5,243],"nice":false,"zero":false}},"color":{"field":"s","type":"nominal","scale":{"domain":["S","J","M","D"],"range":["#00a000","#ff0050","#00ffff","#0000ff"]},"legend":{"orient":"none","legendX":1,"legendY":1,"title":null,"symbolType":"square","symbolSize":8,"symbolOpacity":1,"labelFontSize":6.5,"labelOffset":2,"rowPadding":-4.8,"labelExpr":"{'S':'Sep. - Nov.','J':'Jun. - Aug.','M':'Mar. - May','D':'Dec. - Feb.'}[datum.label]"}}}},
{"data":{"name":"d1"},"mark":{"type":"square","size":8,"opacity":1,"clip":true},"encoding":{"x":{"field":"x","type":"quantitative","axis":null,"scale":{"domain":[0,240],"nice":false}},"y":{"field":"y","type":"quantitative","axis":null,"scale":{"domain":[-2.5,243],"nice":false,"zero":false}},"color":{"field":"s","type":"nominal","scale":{"domain":["S","J","M","D"],"range":["#00a000","#ff0050","#00ffff","#0000ff"]},"legend":{"orient":"none","legendX":1,"legendY":1,"title":null,"symbolType":"square","symbolSize":8,"symbolOpacity":1,"labelFontSize":6.5,"labelOffset":2,"rowPadding":-4.8,"labelExpr":"{'S':'Sep. - Nov.','J':'Jun. - Aug.','M':'Mar. - May','D':'Dec. - Feb.'}[datum.label]"}}}},
{"data":{"values":[{"x":12,"y":197,"t":"n = 15458"},{"x":12,"y":188,"t":"corr = 0.652"}]},"mark":{"type":"text","align":"left","fontSize":6.5,"fontWeight":"bold","color":"#111"},"encoding":{"x":{"field":"x","type":"quantitative","axis":null,"scale":{"domain":[0,240],"nice":false}},"y":{"field":"y","type":"quantitative","axis":null,"scale":{"domain":[-2.5,243],"nice":false,"zero":false}},"text":{"field":"t"}}}
]},
{"width":164,"height":178,"title":"PM₁₀, daily maximum, TMS-stations, ANA","resolve":{"axis":{"x":"independent","y":"independent"}},
"layer":[
{"data":{"values":[{"x":0,"y":0}]},"mark":{"type":"point","opacity":0},"encoding":{"x":{"field":"x","type":"quantitative","scale":{"domain":[0,395],"nice":false},"axis":{"orient":"top","values":[0,100,200,300],"labels":false,"title":null,"tickSize":-4}},"y":{"field":"y","type":"quantitative","scale":{"domain":[-4,397],"nice":false,"zero":false},"axis":{"orient":"right","values":[0,100,200,300],"labels":false,"title":null,"tickSize":-4}}}},
{"data":{"values":[{"x":0,"y":0,"x2":395,"y2":395}]},"mark":{"type":"rule","strokeWidth":1,"color":"#000","clip":true},"encoding":{"x":{"field":"x","type":"quantitative","scale":{"domain":[0,395],"nice":false},"axis":{"values":[0,100,200,300],"title":["observed data  [ug/m**3]","1. Jan. - 31. Dec. 1997"],"tickSize":-4,"labelPadding":8,"titlePadding":0,"titleLineHeight":7}},"y":{"field":"y","type":"quantitative","scale":{"domain":[-4,397],"nice":false,"zero":false},"axis":{"values":[0,100,200,300],"title":"model data CTM 97ach N1  [ug/m**3]","tickSize":-4,"labelPadding":3,"titlePadding":5}},"x2":{"field":"x2"},"y2":{"field":"y2"}}},
{"data":{"values":[{"x":0,"y":0,"x2":198,"y2":396},{"x":0,"y":0,"x2":158,"y2":395},{"x":0,"y":0,"x2":395,"y2":198},{"x":0,"y":0,"x2":395,"y2":158}]},"mark":{"type":"rule","strokeWidth":1,"color":"#000","strokeDash":[13,15],"clip":true},"encoding":{"x":{"field":"x","type":"quantitative","axis":null,"scale":{"domain":[0,395],"nice":false}},"y":{"field":"y","type":"quantitative","axis":null,"scale":{"domain":[-4,397],"nice":false,"zero":false}},"x2":{"field":"x2"},"y2":{"field":"y2"}}},
{"data":{"name":"c2"},"mark":{"type":"square","size":45,"opacity":1,"clip":true},"encoding":{"x":{"field":"x","type":"quantitative","axis":null,"scale":{"domain":[0,395],"nice":false}},"y":{"field":"y","type":"quantitative","axis":null,"scale":{"domain":[-4,397],"nice":false,"zero":false}},"color":{"field":"s","type":"nominal","scale":{"domain":["S","J","M","D"],"range":["#00a000","#ff0050","#00ffff","#0000ff"]},"legend":{"orient":"none","legendX":1,"legendY":1,"title":null,"symbolType":"square","symbolSize":8,"symbolOpacity":1,"labelFontSize":6.5,"labelOffset":2,"rowPadding":-4.8,"labelExpr":"{'S':'Sep. - Nov.','J':'Jun. - Aug.','M':'Mar. - May','D':'Dec. - Feb.'}[datum.label]"}}}},
{"data":{"name":"d2"},"mark":{"type":"square","size":8,"opacity":1,"clip":true},"encoding":{"x":{"field":"x","type":"quantitative","axis":null,"scale":{"domain":[0,395],"nice":false}},"y":{"field":"y","type":"quantitative","axis":null,"scale":{"domain":[-4,397],"nice":false,"zero":false}},"color":{"field":"s","type":"nominal","scale":{"domain":["S","J","M","D"],"range":["#00a000","#ff0050","#00ffff","#0000ff"]},"legend":{"orient":"none","legendX":1,"legendY":1,"title":null,"symbolType":"square","symbolSize":8,"symbolOpacity":1,"labelFontSize":6.5,"labelOffset":2,"rowPadding":-4.8,"labelExpr":"{'S':'Sep. - Nov.','J':'Jun. - Aug.','M':'Mar. - May','D':'Dec. - Feb.'}[datum.label]"}}}},
{"data":{"values":[{"x":20,"y":323,"t":"n = 16991"},{"x":20,"y":312,"t":"corr = 0.531"}]},"mark":{"type":"text","align":"left","fontSize":6.5,"fontWeight":"bold","color":"#111"},"encoding":{"x":{"field":"x","type":"quantitative","axis":null,"scale":{"domain":[0,395],"nice":false}},"y":{"field":"y","type":"quantitative","axis":null,"scale":{"domain":[-4,397],"nice":false,"zero":false}},"text":{"field":"t"}}}
]}
]}
]}
